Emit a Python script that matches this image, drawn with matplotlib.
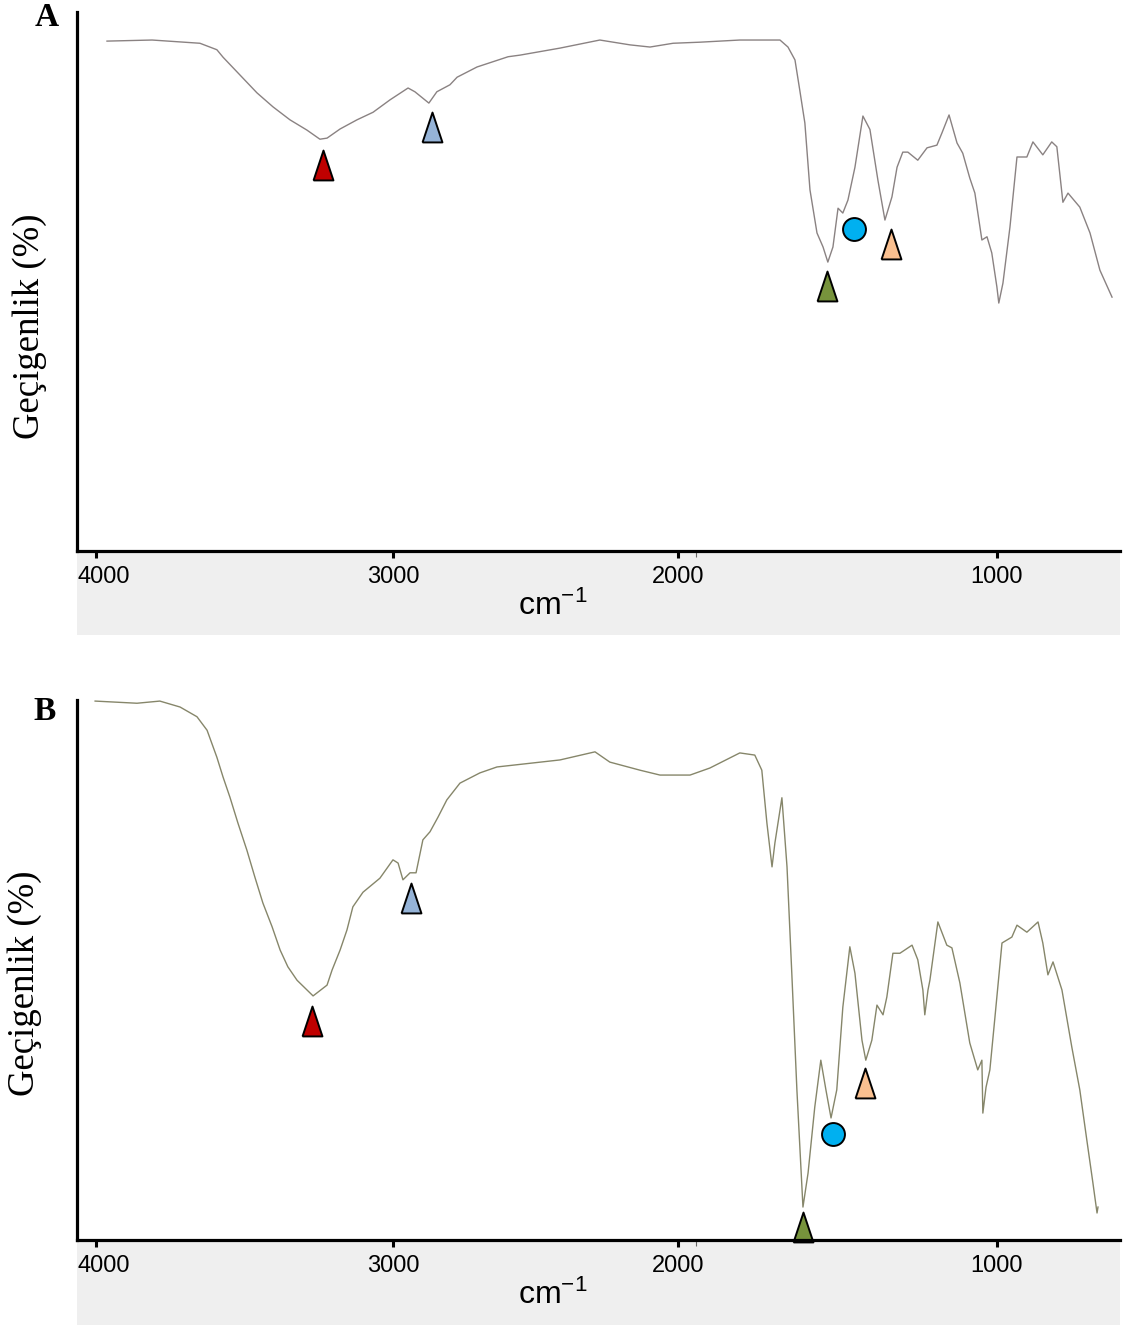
import numpy as np
import matplotlib.pyplot as plt
from matplotlib.patches import Rectangle
from matplotlib.transforms import ScaledTranslation

plt.rcParams['font.family'] = ['Liberation Sans', 'DejaVu Sans']
plt.rcParams['mathtext.default'] = 'regular'

# spectrum A : wavenumber (cm-1) / transmittance (%)
wn_a = [3963, 3811, 3650, 3593, 3572, 3515, 3458, 3404, 3347, 3290, 3246, 3222, 3178, 3121, 3067,
        3010, 2947, 2923, 2895, 2874, 2846,
        2800, 2775, 2705, 2596, 2554, 2414, 2274, 2168, 2098, 2017, 1931, 1806, 1680, 1655, 1633,
        1618, 1602, 1586, 1564, 1545, 1530, 1514, 1498, 1483, 1467, 1445, 1420, 1398, 1373, 1351,
        1329, 1313, 1295, 1279, 1248, 1219, 1188, 1172, 1150, 1125, 1107, 1085, 1069, 1047, 1031,
        1016, 1000, 994, 981, 959, 937, 906, 887, 856, 828, 812, 793, 777, 740, 708, 677, 639]
t_a = [94.6, 94.8, 94.2, 93.0, 91.6, 88.3, 85.0, 82.4, 80.0, 78.1, 76.4, 76.6, 78.3, 80.0, 81.4,
       83.7, 85.9, 85.2, 84.0, 83.1, 85.2,
       86.5, 87.9, 89.8, 91.7, 92.0, 93.3, 94.8, 93.9, 93.5, 94.2, 94.4, 94.8, 94.8, 93.5, 91.1,
       85.5, 79.4, 67.0, 59.0, 56.4, 53.6, 56.4, 63.6, 62.7, 65.1, 71.2, 80.7, 78.2, 68.8, 61.4,
       65.7, 71.2, 74.0, 74.0, 72.5, 74.8, 75.3, 77.6, 80.9, 75.7, 73.8, 69.2, 66.4, 57.7, 58.3,
       55.3, 49.0, 46.0, 49.7, 60.1, 73.1, 73.1, 75.9, 73.5, 75.9, 75.0, 64.7, 66.4, 63.8, 59.0,
       52.1, 47.1]

# spectrum B
wn_b = [4003, 3862, 3785, 3717, 3660, 3626, 3593, 3572, 3549, 3522, 3492, 3465, 3438, 3407, 3380,
        3354, 3323, 3269, 3222, 3205, 3178, 3155,
        3135, 3101, 3044, 3000, 2982, 2965, 2940, 2919, 2895, 2870, 2842, 2811, 2765, 2695, 2635,
        2414, 2291, 2239, 2133, 2063, 1962, 1900, 1806, 1759, 1737, 1721, 1705, 1696, 1674, 1658,
        1643, 1627, 1608, 1592, 1571, 1552, 1536, 1520, 1502, 1483, 1461, 1445, 1423, 1411, 1392,
        1376, 1357, 1345, 1326, 1304, 1266, 1248, 1232, 1226, 1216, 1210, 1185, 1157, 1141, 1116,
        1085, 1060, 1047, 1044, 1034, 1022, 1006, 984, 953, 937, 906, 871, 856, 840, 824,
        796, 765, 740, 718, 699, 686, 683]
t_b = [99.8, 99.4, 99.8, 98.7, 96.9, 94.4, 89.4, 85.7, 82.0, 77.2, 72.2, 67.2, 62.4, 58.0, 53.7,
       50.6, 48.1, 45.2, 47.2, 50.0, 53.7, 57.4,
       61.7, 64.4, 67.0, 70.4, 69.8, 66.7, 68.0, 68.0, 74.1, 75.6, 78.3, 81.5, 84.6, 86.5, 87.6,
       88.9, 90.4, 88.5, 87.0, 86.1, 86.1, 87.4, 90.2, 89.8, 87.0, 77.2, 69.1, 73.5, 81.9, 69.1,
       49.4, 27.8, 6.1, 12.4, 24.6, 33.3, 27.8, 22.6, 27.8, 43.1, 54.3, 49.4, 37.0, 33.3, 37.0,
       43.5, 41.7, 45.0, 53.1, 53.1, 54.6, 51.9, 46.3, 41.7, 46.3, 48.1, 58.9, 54.6, 54.1, 47.6,
       36.5, 31.5, 33.3, 23.5, 28.3, 31.5, 41.3, 55.0, 56.1, 58.3, 57.0, 58.9, 55.0, 49.1, 51.5,
       46.3, 35.7, 27.8, 18.5, 10.6, 5.0, 6.1]

# band markers (red, blue, green, circle, orange)
mark_colors = ['#c00000', '#95b3d7', '#77933c', '#00b0f0', '#fac090']
mark_a_wn = [3236, 2863, 1533, 1448, 1332]
mark_a_t = [71.6, 78.7, 49.2, 59.7, 57.0]
mark_b_wn = [3273, 2937, 1608, 1514, 1414]
mark_b_t = [40.6, 63.3, 2.4, 19.6, 29.1]

xticks = [4000, 3000, 2000, 1000]

# the instrument's x axis is not evenly spaced, piecewise scale through the tick marks
SC_WN = np.array([0, 1000, 2000, 3000, 4000, 5000], float)
SC_POS = -np.array([1316, 997, 678, 393, 96, -201], float)

def fwd(w):
    return np.interp(w, SC_WN, SC_POS)

def inv(v):
    return np.interp(v, SC_POS, SC_WN)

tri = [(-1/3, -0.5), (1/3, -0.5), (0, 0.5), (-1/3, -0.5)]

fig = plt.figure(figsize=(11.27, 13.27), dpi=100)
W, H = 1127, 1327

def panel(rect, wn, t, lc, mwn, mt, letter, ylab_xy, letter_xy, band_y):
    ax = fig.add_axes(rect)
    ax.set_xscale('function', functions=(fwd, inv))
    ax.plot(wn, t, color=lc, lw=1.0, zorder=2)
    for i, (x, y) in enumerate(zip(mwn, mt)):
        if i == 3:
            ax.plot(x, y, marker='o', ms=16.5, mfc=mark_colors[i], mec='black', mew=1.4,
                    clip_on=False, zorder=2)
        else:
            ax.plot(x, y, marker=tri, ms=21.5, mfc=mark_colors[i], mec='black', mew=1.4,
                    clip_on=False, zorder=2)
    ax.set_xlim(4064, 614)
    ax.set_ylim(0, 100)
    ax.set_yticks([])
    ax.set_xticks(xticks)
    ax.set_xticklabels([str(v) for v in xticks])
    ax.set_xticks([1944], minor=True)
    ax.tick_params(axis='x', which='major', direction='out', length=5, width=2.2,
                   labelsize=17, pad=6)
    ax.tick_params(axis='x', which='minor', direction='out', length=4, width=0.8, color='#666666')
    # first label sits a little right of its tick in the original
    lbl = ax.get_xticklabels()[0]
    lbl.set_transform(lbl.get_transform() + ScaledTranslation(0.08, 0, fig.dpi_scale_trans))
    for s in ['top', 'right']:
        ax.spines[s].set_visible(False)
    for s in ['left', 'bottom']:
        ax.spines[s].set_linewidth(2.3)
    ax.patch.set_alpha(0)
    fig.patches.append(Rectangle((77 / W, 1 - band_y[1] / H), (1120 - 77) / W,
                                 (band_y[1] - band_y[0]) / H, transform=fig.transFigure,
                                 facecolor='#efefef', edgecolor='none', zorder=-1))
    fig.text(553 / W, 1 - (band_y[0] + 53) / H, 'cm$^{-1}$', fontsize=23,
             ha='center', va='center')
    fig.text(ylab_xy[0] / W, 1 - ylab_xy[1] / H, 'Geçigenlik (%)', rotation=90,
             family='Liberation Serif', fontsize=26.5, ha='center', va='center')
    fig.text(letter_xy[0] / W, 1 - letter_xy[1] / H, letter, family='Liberation Serif',
             fontweight='bold', fontsize=24, ha='center', va='center')
    return ax

panel([77 / W, 1 - 551 / H, (1120 - 77) / W, (551 - 12) / H], wn_a, t_a, '#8a8282',
      mark_a_wn, mark_a_t, 'A', (30, 326), (47, 18), (553, 635))
panel([77 / W, 1 - 1240 / H, (1120 - 77) / W, (1240 - 700) / H], wn_b, t_b, '#86866a',
      mark_b_wn, mark_b_t, 'B', (25, 983), (45, 712), (1242, 1325))

fig.savefig('out.png', dpi=100)
